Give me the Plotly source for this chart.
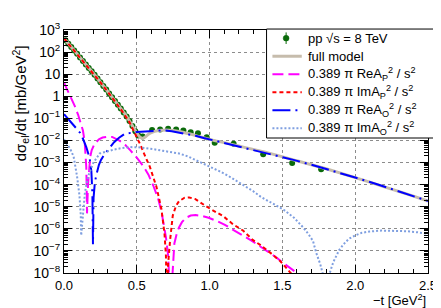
import numpy as np
import plotly.graph_objects as go

# ---------------- data ----------------
data_t = [0.01, 0.03, 0.05, 0.07, 0.09, 0.11, 0.13, 0.15, 0.17, 0.19, 0.21, 0.23,
          0.25, 0.27, 0.29, 0.31, 0.33, 0.35, 0.37, 0.39, 0.41, 0.43, 0.45, 0.47,
          0.49, 0.51, 0.54, 0.605, 0.66, 0.715, 0.77, 0.82, 0.87, 0.92, 0.98,
          1.035, 1.165, 1.368, 1.567, 1.766]
data_log10y = [2.54, 2.38, 2.23, 2.07, 1.92, 1.76, 1.60, 1.44, 1.28, 1.13, 0.97, 0.81,
               0.64, 0.47, 0.31, 0.13, -0.04, -0.21, -0.38, -0.55, -0.73, -0.91, -1.12, -1.35,
               -1.58, -1.78, -1.82, -1.53, -1.50, -1.47, -1.50, -1.55, -1.63, -1.67, -1.85,
               -2.10, -2.15, -2.62, -3.02, -3.30]

model_t = [0.0, 0.05, 0.10, 0.15, 0.20, 0.25, 0.30, 0.35, 0.40, 0.425, 0.45, 0.475,
           0.50, 0.52, 0.54, 0.56, 0.58, 0.60, 0.65, 0.70, 0.75, 0.80, 0.90, 1.00,
           1.10, 1.20, 1.40, 1.60, 1.80, 2.00, 2.20, 2.40, 2.50]
model_log10y = [2.62, 2.23, 1.84, 1.44, 1.05, 0.64, 0.22, -0.21, -0.64, -0.86, -1.12, -1.40,
                -1.66, -1.84, -1.90, -1.83, -1.72, -1.64, -1.55, -1.53, -1.55, -1.61, -1.77, -1.95,
                -2.10, -2.25, -2.56, -2.92, -3.28, -3.68, -4.10, -4.52, -4.74]

reP_t = [0.0, 0.025, 0.05, 0.075, 0.097, 0.115, 0.13, 0.142, 0.149, 0.153, 0.156, 0.158,
         0.165, 0.172, 0.18, 0.19, 0.21, 0.24, 0.265, 0.30, 0.33, 0.378, 0.42, 0.456,
         0.50, 0.545, 0.58, 0.613, 0.645, 0.669, 0.69, 0.70, 0.715, 0.728, 0.735, 0.742,
         0.75, 0.758, 0.775, 0.79, 0.81, 0.837, 0.87, 0.904, 0.95, 0.993, 1.05, 1.105,
         1.15, 1.195, 1.24, 1.285, 1.33, 1.374, 1.42, 1.464, 1.50, 1.55, 1.60, 1.65]
reP_log10y = [0.62, 0.27, -0.08, -0.46, -0.84, -1.20, -1.55, -2.05, -2.60, -3.20, -4.20, -5.30,
              -4.00, -3.20, -2.75, -2.45, -2.15, -1.95, -1.87, -1.83, -1.84, -2.00, -2.20, -2.45,
              -2.78, -3.17, -3.55, -4.04, -4.60, -5.20, -5.90, -6.38, -7.20, -8.50, -10.0, -8.40,
              -7.30, -6.66, -6.20, -5.94, -5.70, -5.50, -5.40, -5.38, -5.42, -5.50, -5.65, -5.82,
              -6.00, -6.16, -6.35, -6.52, -6.72, -6.90, -7.12, -7.32, -7.52, -7.76, -8.00, -8.30]

imP_t = [0.0, 0.05, 0.10, 0.15, 0.20, 0.25, 0.30, 0.35, 0.40, 0.45, 0.50, 0.525,
         0.55, 0.59, 0.635, 0.669, 0.69, 0.70, 0.708, 0.715, 0.729, 0.747, 0.77, 0.79,
         0.826, 0.86, 0.90, 0.926, 0.97, 1.016, 1.094, 1.16, 1.23, 1.296, 1.35, 1.42,
         1.486, 1.55, 1.60]
imP_log10y = [2.62, 2.23, 1.84, 1.44, 1.05, 0.63, 0.21, -0.23, -0.68, -1.18, -1.85, -2.20,
              -2.60, -3.20, -4.10, -5.10, -6.20, -7.20, -9.50, -7.60, -6.50, -5.40, -4.95, -4.75,
              -4.60, -4.58, -4.65, -4.75, -4.95, -5.14, -5.43, -5.79, -6.08, -6.50, -6.74, -7.10,
              -7.47, -7.95, -8.30]

reO_t = [0.0, 0.033, 0.066, 0.109, 0.13, 0.153, 0.176, 0.188, 0.195, 0.199, 0.203, 0.212,
         0.223, 0.24, 0.254, 0.28, 0.30, 0.344, 0.378, 0.42, 0.50, 0.58, 0.62, 0.68,
         0.74, 0.79, 0.85, 0.904, 0.96, 1.016, 1.10, 1.18, 1.30, 1.45, 1.576, 1.70,
         1.85, 2.00, 2.15, 2.30, 2.50]
reO_log10y = [-0.81, -1.05, -1.28, -1.64, -1.92, -2.30, -2.80, -3.40, -4.40, -6.70, -4.60, -3.90,
              -3.54, -3.10, -2.88, -2.60, -2.45, -2.08, -1.88, -1.69, -1.62, -1.57, -1.55, -1.54,
              -1.58, -1.64, -1.71, -1.79, -1.89, -1.98, -2.10, -2.23, -2.42, -2.66, -2.88, -3.10,
              -3.38, -3.68, -3.98, -4.30, -4.74]

imO_t = [0.0, 0.02, 0.044, 0.066, 0.089, 0.106, 0.115, 0.118, 0.133, 0.144, 0.167, 0.20,
         0.245, 0.30, 0.344, 0.40, 0.456, 0.51, 0.568, 0.62, 0.68, 0.74, 0.79, 0.85,
         0.904, 0.971, 1.016, 1.07, 1.128, 1.195, 1.24, 1.30, 1.352, 1.43, 1.509, 1.58,
         1.643, 1.68, 1.71, 1.733, 1.76, 1.78, 1.80, 1.82, 1.85, 1.89, 1.92, 1.957,
         2.00, 2.046, 2.10, 2.18, 2.27, 2.36, 2.43, 2.50]
imO_log10y = [-1.95, -2.15, -2.40, -2.73, -3.60, -4.48, -5.35, -6.30, -5.07, -4.34, -3.60, -3.03,
              -2.59, -2.48, -2.41, -2.34, -2.30, -2.31, -2.35, -2.40, -2.47, -2.53, -2.59, -2.72,
              -2.88, -3.10, -3.22, -3.40, -3.60, -3.88, -4.04, -4.30, -4.55, -4.85, -5.14, -5.50,
              -5.94, -6.25, -6.55, -7.10, -7.60, -8.10, -9.50, -8.10, -7.50, -6.96, -6.70, -6.45,
              -6.30, -6.18, -6.12, -6.08, -6.08, -6.11, -6.16, -6.23]

x_tick_vals = [0.0, 0.5, 1.0, 1.5, 2.0, 2.5]
x_tick_text = ["0.0", "0.5", "1.0", "1.5", "2.0", "2.5"]
y_tick_exps = [-8, -7, -6, -5, -4, -3, -2, -1, 0, 1, 2, 3]
y_tick_text = ["10<sup>\u22128</sup>", "10<sup>\u22127</sup>", "10<sup>\u22126</sup>",
               "10<sup>\u22125</sup>", "10<sup>\u22124</sup>", "10<sup>\u22123</sup>",
               "10<sup>\u22122</sup>", "10<sup>\u22121</sup>", "1", "10",
               "10<sup>2</sup>", "10<sup>3</sup>"]

legend_labels = ["pp \u221as = 8 TeV", "full model",
                 "0.389 \u03c0 ReA<sub>P</sub><sup>2</sup> / s<sup>2</sup>",
                 "0.389 \u03c0 ImA<sub>P</sub><sup>2</sup> / s<sup>2</sup>",
                 "0.389 \u03c0 ReA<sub>O</sub><sup>2</sup> / s<sup>2</sup>",
                 "0.389 \u03c0 ImA<sub>O</sub><sup>2</sup> / s<sup>2</sup>"]

# ---------------- styles ----------------
C_DATA = "#0a6a0a"
C_MODEL = "#c6bcac"
styles = [
    dict(color=C_MODEL, width=3, dash="solid"),
    dict(color="#ff00ff", width=2, dash="11px,5px"),
    dict(color="#ff0000", width=2, dash="4px,3px"),
    dict(color="#0000ff", width=2, dash="18px,5px,2px,5px"),
    dict(color="#7f9fe0", width=2, dash="2px,2px"),
]

def pw(v):
    return np.power(10.0, np.array(v, dtype=float))

FONT = "Liberation Sans, Arial, sans-serif"
W, H = 441, 308
ML, MR, MT, MB = 56, 13, 13, 43
PW, PH = W - ML - MR, H - MT - MB

def px(x):
    return (x - ML) / PW

def py(y):
    return (H - MB - y) / PH

fig = go.Figure()
fig.add_trace(go.Scatter(x=data_t, y=pw(data_log10y), mode="markers",
                         marker=dict(color=C_DATA, size=6), name=legend_labels[0]))
curves = [(model_t, model_log10y), (reP_t, reP_log10y), (imP_t, imP_log10y),
          (reO_t, reO_log10y), (imO_t, imO_log10y)]
for i, (tt, yy) in enumerate(curves):
    ln = dict(styles[i])
    if i == 0:
        ln.update(shape="spline", smoothing=0.6)
    fig.add_trace(go.Scatter(x=tt, y=pw(yy), mode="lines", line=ln, name=legend_labels[i + 1]))

minor_y = [m * 10.0 ** e for e in range(-8, 3) for m in range(2, 10)]

# ---------------- manual legend (ROOT style box) ----------------
shapes = []
annotations = []
box_x0, box_x1, box_y0, box_y1 = 263, 437, 12, 125
shapes.append(dict(type="rect", xref="paper", yref="paper",
                   x0=px(box_x0), x1=px(box_x1), y0=py(box_y1), y1=py(box_y0),
                   fillcolor="white", line=dict(color="black", width=1), layer="above"))
row_y = [21.5, 40.2, 58.9, 77.6, 96.3, 115.0]
shapes.append(dict(type="line", xref="paper", yref="paper",
                   x0=px(283), x1=px(283), y0=py(row_y[0] + 6), y1=py(row_y[0] - 6),
                   line=dict(color=C_DATA, width=1), layer="above"))
shapes.append(dict(type="circle", xref="paper", yref="paper",
                   x0=px(280), x1=px(286), y0=py(row_y[0] + 3), y1=py(row_y[0] - 3),
                   fillcolor=C_DATA, line=dict(color=C_DATA, width=0.5), layer="above"))
for i, st in enumerate(styles):
    yv = row_y[i + 1]
    shapes.append(dict(type="line", xref="paper", yref="paper",
                       x0=px(269), x1=px(299), y0=py(yv), y1=py(yv),
                       line=dict(color=st["color"], width=st["width"], dash=st["dash"]),
                       layer="above"))
for i, lab in enumerate(legend_labels):
    annotations.append(dict(text=lab, xref="paper", yref="paper", x=px(303), y=py(row_y[i]),
                            xanchor="left", yanchor="middle", showarrow=False,
                            font=dict(size=13, family=FONT, color="black")))

annotations.append(dict(text="\u2212t [GeV<sup>2</sup>]", xref="paper", yref="paper",
                        x=1.0, y=py(293), xanchor="right", yanchor="middle", showarrow=False,
                        font=dict(size=13)))
annotations.append(dict(text="d\u03c3<sub>el</sub>/dt [mb/GeV<sup>2</sup>]", xref="paper", yref="paper",
                        x=px(11), y=py(89), xanchor="center", yanchor="middle", textangle=-90,
                        showarrow=False, font=dict(size=15)))

fig.update_layout(
    width=W, height=H,
    margin=dict(l=ML, r=MR, t=MT, b=MB),
    paper_bgcolor="white", plot_bgcolor="white",
    font=dict(family=FONT, size=13, color="black"),
    showlegend=False,
    xaxis=dict(range=[0, 2.5], tickvals=x_tick_vals, ticktext=x_tick_text,
               ticks="inside", ticklen=8, tickcolor="black",
               minor=dict(dtick=0.1, tick0=0, ticks="inside", ticklen=4, tickcolor="black", showgrid=False),
               showgrid=True, gridcolor="#8c8c8c", griddash="dot", gridwidth=1,
               showline=True, linecolor="black", linewidth=1, mirror="ticks",
               zeroline=False, tickfont=dict(size=13)),
    yaxis=dict(type="log", range=[-8, 3],
               tickvals=[10.0 ** e for e in y_tick_exps], ticktext=y_tick_text,
               ticks="inside", ticklen=8, tickcolor="black",
               minor=dict(tickvals=minor_y, ticks="inside", ticklen=4, tickcolor="black", showgrid=False),
               showgrid=True, gridcolor="#8c8c8c", griddash="dot", gridwidth=1,
               showline=True, linecolor="black", linewidth=1, mirror="ticks",
               zeroline=False, tickfont=dict(size=14)),
    shapes=shapes,
    annotations=annotations,
)

fig.write_html("out.html")
